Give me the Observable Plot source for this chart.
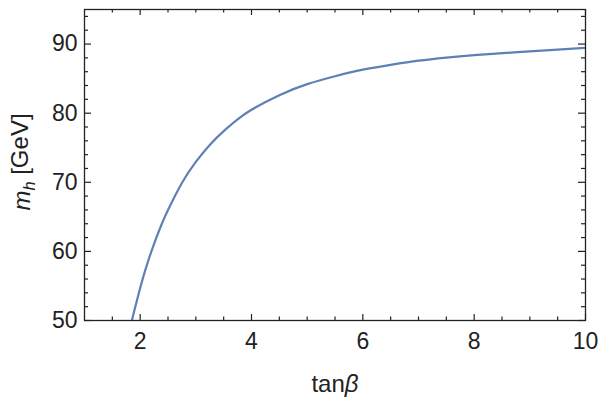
<!DOCTYPE html>
<html><head><meta charset="utf-8">
<script src="https://cdn.jsdelivr.net/npm/d3@7"></script>
<script src="https://cdn.jsdelivr.net/npm/@observablehq/plot@0.6"></script>
<style>
html,body{margin:0;padding:0;background:#fff;overflow:hidden;}
#strip{position:fixed;left:0;top:0;width:7px;height:398px;background:#f0f0f0;}
#chart{position:absolute;left:0;top:0;}
</style></head><body><div id="strip"></div><div id="chart"></div>
<script>
// Curve: tan(beta) vs m_h [GeV]
const tanBeta = [1.85, 1.9, 2.0, 2.1, 2.25, 2.4, 2.5, 2.75, 3.0, 3.25, 3.5, 3.75, 4.0, 4.5, 5.0, 5.5, 6.0, 6.5, 7.0, 7.5, 8.0, 9.0, 10.0];
const mh      = [49.95, 51.6, 54.7, 57.5, 61.1, 64.2, 66.0, 69.9, 72.95, 75.4, 77.4, 79.1, 80.5, 82.6, 84.2, 85.35, 86.3, 87.0, 87.6, 88.05, 88.4, 88.95, 89.45];

const xTicks = [2, 4, 6, 8, 10];
const xMinor = [1.5, 2.5, 3, 3.5, 4.5, 5, 5.5, 6.5, 7, 7.5, 8.5, 9, 9.5];
const yTicks = [50, 60, 70, 80, 90];
const yMinor = [52, 54, 56, 58, 62, 64, 66, 68, 72, 74, 76, 78, 82, 84, 86, 88, 92, 94];
const xLabel = "tanβ";
const yLabel = "m_h [GeV]";

const data = tanBeta.map((t, i) => ({t, m: mh[i]}));

const W = 598, H = 398, mL = 84, mR = 13, mT = 9, mB = 78;
const iW = W - mL - mR, iH = H - mT - mB;
const ink = "#222";

const chart = Plot.plot({
  width: W, height: H,
  marginLeft: mL, marginRight: mR, marginTop: mT, marginBottom: mB,
  style: {fontFamily: "'Liberation Sans', Arial, Helvetica, sans-serif", fontSize: "23px", color: ink, background: "white"},
  x: {domain: [1, 10], axis: null},
  y: {domain: [50, 95], axis: null},
  marks: [
    Plot.line(data, {x: "t", y: "m", stroke: "#5e81b5", strokeWidth: 2.2, curve: "natural", clip: true}),
    // inward ticks, bottom/top
    Plot.ruleX(xTicks, {x: d => d, stroke: ink, strokeWidth: 1.2, insetTop: iH - 6}),
    Plot.ruleX(xTicks, {x: d => d, stroke: ink, strokeWidth: 1.2, insetBottom: iH - 6}),
    Plot.ruleX(xMinor, {x: d => d, stroke: ink, strokeWidth: 1.2, insetTop: iH - 3.5}),
    Plot.ruleX(xMinor, {x: d => d, stroke: ink, strokeWidth: 1.2, insetBottom: iH - 3.5}),
    // inward ticks, left/right
    Plot.ruleY(yTicks, {y: d => d, stroke: ink, strokeWidth: 1.2, insetRight: iW - 7}),
    Plot.ruleY(yTicks, {y: d => d, stroke: ink, strokeWidth: 1.2, insetLeft: iW - 7}),
    Plot.ruleY(yMinor, {y: d => d, stroke: ink, strokeWidth: 1.2, insetRight: iW - 4}),
    Plot.ruleY(yMinor, {y: d => d, stroke: ink, strokeWidth: 1.2, insetLeft: iW - 4}),
    Plot.frame({stroke: ink, strokeWidth: 1.3}),
    Plot.axisX({ticks: xTicks, tickSize: 0, tickPadding: 12, label: null, fill: ink}),
    Plot.axisY({ticks: yTicks, tickSize: 0, tickPadding: 7, label: null, fill: ink}),
    Plot.text([xLabel], {frameAnchor: "bottom", text: d => d, dy: 64, textAnchor: "middle", lineAnchor: "middle", fill: ink, fontSize: 24}),
    Plot.text([yLabel], {frameAnchor: "left", text: d => d, dx: -62, dy: -3, rotate: -90, textAnchor: "middle", lineAnchor: "middle", fill: ink, fontSize: 24})
  ]
});
document.getElementById("chart").appendChild(chart);

// rich text: italic symbols and subscript
d3.select(chart).selectAll("text").each(function() {
  const t = this.textContent;
  if (t === xLabel) {
    this.textContent = "";
    const s = d3.select(this);
    s.append("tspan").text("tan");
    s.append("tspan").attr("font-style", "italic").text("β");
  } else if (t === yLabel) {
    this.textContent = "";
    const s = d3.select(this);
    s.append("tspan").attr("font-style", "italic").text("m");
    s.append("tspan").attr("font-style", "italic").attr("font-size", "0.68em").attr("dy", "0.3em").text("h");
    s.append("tspan").attr("dy", "-0.3em").text(" [GeV]");
  }
});
</script></body></html>
